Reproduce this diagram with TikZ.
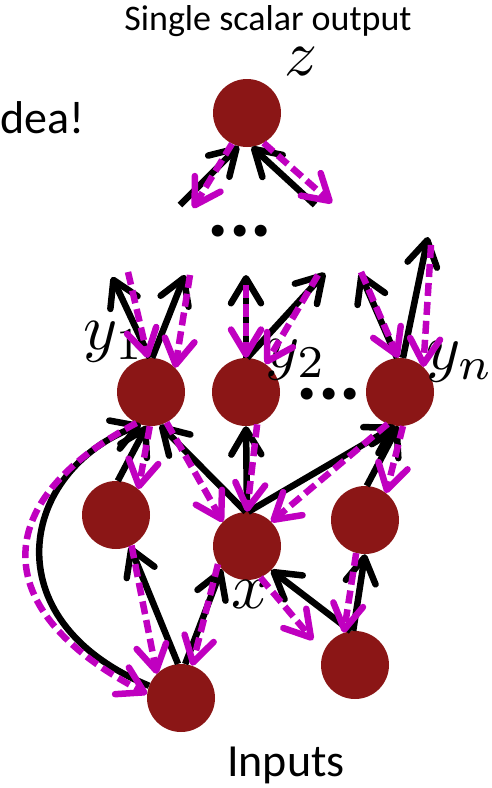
\documentclass[tikz,border=0pt]{standalone}
\usepackage{fontspec}
\newfontfamily\calibri{Carlito}
\usetikzlibrary{arrows.meta}
\definecolor{nodered}{RGB}{139,22,22}
\definecolor{gradpink}{RGB}{192,0,192}
\begin{document}
\begin{tikzpicture}[x=1pt,y=-1pt,
    neuron/.style={circle,fill=nodered,minimum size=68pt,inner sep=0pt},
    mathlbl/.style={scale=6.5,inner sep=0pt},
    fwd/.style={line width=6.5pt,black,-{Straight Barb[length=25pt,width=30pt,round]}},
    bwd/.style={line width=6.5pt,gradpink,dash pattern=on 13pt off 6pt,-{Straight Barb[length=25pt,width=30pt,round]}}]
    \useasboundingbox (0,0) rectangle (492,788);
    % texts
    \node[font=\calibri\fontsize{36}{40}\selectfont] (title) at (268,21) {Single scalar output};
    \node[font=\calibri\fontsize{46}{50}\selectfont,anchor=west,inner sep=0pt] (idea) at (0,118) {dea!};
    \node[font=\calibri\fontsize{46}{50}\selectfont] (inputs) at (286,765) {Inputs};
    % neurons
    \node[neuron] (z) at (247,113) {};
    \node[neuron] (y1) at (151,392) {};
    \node[neuron] (y2) at (246,392) {};
    \node[neuron] (yn) at (400,392) {};
    \node[neuron] (h1) at (116,515) {};
    \node[neuron] (x) at (247,546) {};
    \node[neuron] (h2) at (365,520) {};
    \node[neuron] (in1) at (181,698) {};
    \node[neuron] (in2) at (355,665) {};
    % labels
    \node[mathlbl] (lz) at (301,62) {$z$};
    \node[mathlbl] (ly1) at (114,342) {$y_1$};
    \node[mathlbl] (ly2) at (296,360) {$y_2$};
    \node[mathlbl] (lyn) at (460,362) {$y_n$};
    \node[mathlbl] (lx) at (250,594) {$x$};
    \node[font=\calibri\bfseries\fontsize{80}{80}\selectfont,inner sep=0pt] (dots1) at (240,231) {...};
    \node[font=\calibri\bfseries\fontsize{80}{80}\selectfont,inner sep=0pt] (dots2) at (329,394) {...};
    % free ends
    \coordinate (za) at (180,205);
    \coordinate (zb) at (193,208);
    \coordinate (zc) at (315,205);
    \coordinate (zd) at (332,203);
    \coordinate (ya) at (112,277);
    \coordinate (yb) at (128,272);
    \coordinate (yc) at (185,275);
    \coordinate (yd) at (190,275);
    \coordinate (ye) at (246,275);
    \coordinate (yf) at (246,285);
    \coordinate (yg) at (325,273);
    \coordinate (yh) at (318,275);
    \coordinate (yi) at (360,273);
    \coordinate (yj) at (361,272);
    \coordinate (yk) at (428,237);
    \coordinate (yl) at (431,245);
    \coordinate (ib) at (313,640);
    % forward pass
    \draw[fwd] (za) -- (z.256);
    \draw[fwd] (zc) -- (z.278);
    \draw[fwd] (y1.92) -- (ya);
    \draw[fwd] (y1.88) -- (yc);
    \draw[fwd] (y2.90) -- (ye);
    \draw[fwd] (y2.88) -- (yg);
    \draw[fwd] (yn.95) -- (yi);
    \draw[fwd] (yn.85) -- (yk);
    \draw[fwd] (h1.87) -- (y1.263);
    \draw[fwd] (x.92) -- (y1.285);
    \draw[fwd] (in1.159) .. controls (-10,620) and (20,470) .. (y1.253);
    \draw[fwd] (in1.95) -- (h1.294);
    \draw[fwd] (in1.83) -- (x.222);
    \draw[fwd] (x.90) -- (y2.270);
    \draw[fwd] (x.88) -- (yn.262);
    \draw[fwd] (h2.87) -- (yn.267);
    \draw[fwd] (in2.93) -- (h2.270);
    \draw[fwd] (in2.97) -- (x.315);
    % backward pass
    \draw[bwd] (z.244) -- (zb);
    \draw[bwd] (z.299) -- (zd);
    \draw[bwd] (yb) -- (y1.95);
    \draw[bwd] (yd) -- (y1.45);
    \draw[bwd] (yf) -- (y2.90);
    \draw[bwd] (yh) -- (y2.55);
    \draw[bwd] (yj) -- (yn.93);
    \draw[bwd] (yl) -- (yn.47);
    \draw[bwd] (y1.268) -- (h1.49);
    \draw[bwd] (y1.297) -- (x.135);
    \draw[bwd] (y1.245) .. controls (-10,500) and (-15,610) .. (in1.173);
    \draw[bwd] (h1.297) -- (in1.135);
    \draw[bwd] (x.212) -- (in1.71);
    \draw[bwd] (y2.289) -- (x.90);
    \draw[bwd] (yn.249) -- (x.45);
    \draw[bwd] (yn.275) -- (h2.52);
    \draw[bwd] (h2.255) -- (in2.109);
    \draw[bwd] (x.293) -- (ib);
\end{tikzpicture}
\end{document}
